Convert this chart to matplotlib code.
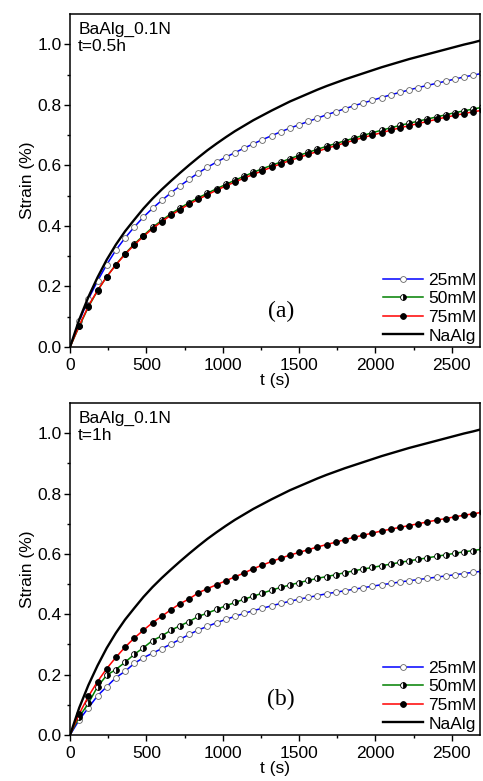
import matplotlib
matplotlib.use("Agg")
import matplotlib.pyplot as plt
import numpy as np

# tempo (s), um ponto a cada 60 s
t = np.arange(0, 2701, 60)

# NaAlg (igual nos dois paineis)
naalg = [0.000, 0.090, 0.165, 0.230, 0.288, 0.338, 0.382, 0.420, 0.457, 0.490,
         0.520, 0.548, 0.575, 0.601, 0.626, 0.650, 0.672, 0.693, 0.713, 0.731,
         0.749, 0.765, 0.781, 0.796, 0.811, 0.824, 0.837, 0.850, 0.862, 0.873,
         0.884, 0.894, 0.904, 0.914, 0.924, 0.933, 0.942, 0.951, 0.959, 0.967,
         0.975, 0.983, 0.991, 0.999, 1.006, 1.014]

################### Painel (a): t=0.5h ###################
a_25 = [0.000, 0.085, 0.158, 0.218, 0.272, 0.320, 0.360, 0.396, 0.429, 0.458,
        0.484, 0.509, 0.532, 0.554, 0.575, 0.594, 0.611, 0.627, 0.642, 0.657,
        0.671, 0.685, 0.698, 0.711, 0.723, 0.734, 0.745, 0.756, 0.767, 0.777,
        0.787, 0.797, 0.806, 0.815, 0.824, 0.833, 0.841, 0.849, 0.857, 0.864,
        0.871, 0.878, 0.885, 0.892, 0.898, 0.904]
a_50 = [0.000, 0.068, 0.132, 0.186, 0.232, 0.272, 0.308, 0.340, 0.368, 0.395,
        0.418, 0.440, 0.459, 0.477, 0.493, 0.508, 0.523, 0.537, 0.551, 0.564,
        0.577, 0.589, 0.600, 0.611, 0.622, 0.633, 0.643, 0.653, 0.663, 0.672,
        0.681, 0.690, 0.699, 0.708, 0.716, 0.724, 0.732, 0.739, 0.746, 0.753,
        0.760, 0.767, 0.774, 0.780, 0.786, 0.792]
a_75 = [0.000, 0.070, 0.135, 0.187, 0.232, 0.271, 0.306, 0.337, 0.365, 0.391,
        0.414, 0.435, 0.454, 0.472, 0.488, 0.503, 0.518, 0.532, 0.545, 0.558,
        0.570, 0.582, 0.594, 0.605, 0.616, 0.626, 0.636, 0.646, 0.656, 0.665,
        0.674, 0.683, 0.692, 0.700, 0.708, 0.716, 0.724, 0.731, 0.738, 0.745,
        0.752, 0.759, 0.765, 0.771, 0.777, 0.782]

################### Painel (b): t=1h ###################
b_25 = [0.000, 0.050, 0.090, 0.130, 0.160, 0.190, 0.211, 0.237, 0.256, 0.271,
        0.286, 0.301, 0.317, 0.333, 0.348, 0.360, 0.372, 0.383, 0.393, 0.403,
        0.412, 0.420, 0.428, 0.436, 0.443, 0.450, 0.456, 0.462, 0.468, 0.473,
        0.478, 0.483, 0.488, 0.493, 0.498, 0.502, 0.507, 0.511, 0.515, 0.519,
        0.523, 0.527, 0.531, 0.535, 0.539, 0.543]
b_50 = [0.000, 0.060, 0.105, 0.160, 0.198, 0.217, 0.241, 0.267, 0.289, 0.313,
        0.328, 0.347, 0.362, 0.376, 0.393, 0.404, 0.416, 0.428, 0.439, 0.450,
        0.460, 0.470, 0.480, 0.489, 0.497, 0.505, 0.512, 0.519, 0.525, 0.531,
        0.538, 0.544, 0.550, 0.555, 0.561, 0.566, 0.572, 0.577, 0.582, 0.587,
        0.592, 0.597, 0.602, 0.607, 0.611, 0.616]
b_75 = [0.000, 0.070, 0.128, 0.177, 0.220, 0.257, 0.291, 0.321, 0.347, 0.372,
        0.393, 0.415, 0.435, 0.451, 0.471, 0.485, 0.498, 0.511, 0.524, 0.537,
        0.551, 0.563, 0.575, 0.586, 0.596, 0.605, 0.614, 0.623, 0.631, 0.639,
        0.647, 0.655, 0.662, 0.669, 0.676, 0.682, 0.688, 0.694, 0.700, 0.706,
        0.712, 0.717, 0.723, 0.728, 0.733, 0.738]

labels = ["25mM", "50mM", "75mM", "NaAlg"]
panels = [("t=0.5h", "(a)", a_25, a_50, a_75),
          ("t=1h", "(b)", b_25, b_50, b_75)]

plt.rcParams["font.family"] = ["Liberation Sans", "DejaVu Sans"]
fs = 12.5

fig = plt.figure(figsize=(4.83, 7.81), dpi=100)
rects = [[0.145, 0.5557, 0.849, 0.4264], [0.145, 0.0589, 0.849, 0.4251]]

for rect, (tlabel, letter, s25, s50, s75) in zip(rects, panels):
    ax = fig.add_axes(rect)
    mk = dict(markevery=slice(1, None), markersize=4.2, markeredgewidth=0.6)
    ax.plot(t, s25, color="blue", lw=1.1, marker="o", mfc="white",
            mec="#666666", label=labels[0], **mk)
    ax.plot(t, s50, color="green", lw=1.1, marker="o", fillstyle="right",
            mfc="black", markerfacecoloralt="white", mec="black",
            label=labels[1], **mk)
    ax.plot(t, s75, color="red", lw=1.1, marker="o", mfc="black",
            mec="black", label=labels[2], **mk)
    ax.plot(t, naalg, color="black", lw=1.7, label=labels[3])

    ax.set_xlim(0, 2685)
    ax.set_ylim(0, 1.1)
    ax.set_xticks([0, 500, 1000, 1500, 2000, 2500])
    ax.set_xticks(np.arange(250, 2700, 500), minor=True)
    ax.set_yticks([0.0, 0.2, 0.4, 0.6, 0.8, 1.0])
    ax.set_yticks([0.1, 0.3, 0.5, 0.7, 0.9], minor=True)
    ax.set_yticklabels(["0.0", "0.2", "0.4", "0.6", "0.8", "1.0"])
    ax.tick_params(which="both", direction="out", top=False, right=False,
                   labelsize=fs)
    ax.tick_params(axis="x", which="major", pad=4)
    ax.tick_params(axis="y", which="major", pad=2)
    ax.tick_params(which="major", length=4, width=1)
    ax.tick_params(which="minor", length=2.5, width=1)
    for sp in ax.spines.values():
        sp.set_linewidth(1.1)

    ax.set_xlabel("t (s)", fontsize=fs, labelpad=0)
    ax.set_ylabel("Strain (%)", fontsize=fs, labelpad=2)

    ax.text(0.02, 0.975, "BaAlg_0.1N\n" + tlabel, transform=ax.transAxes,
            ha="left", va="top", fontsize=fs, linespacing=1.15)
    ax.text(0.515, 0.108, letter, transform=ax.transAxes, ha="center",
            va="center", fontsize=17, family="Liberation Serif")

    ax.legend(loc="lower right", frameon=False, fontsize=fs,
              handlelength=2.3, handletextpad=0.3, labelspacing=0.2,
              borderaxespad=0.05, borderpad=0.15)

fig.savefig("out.png", dpi=100)
